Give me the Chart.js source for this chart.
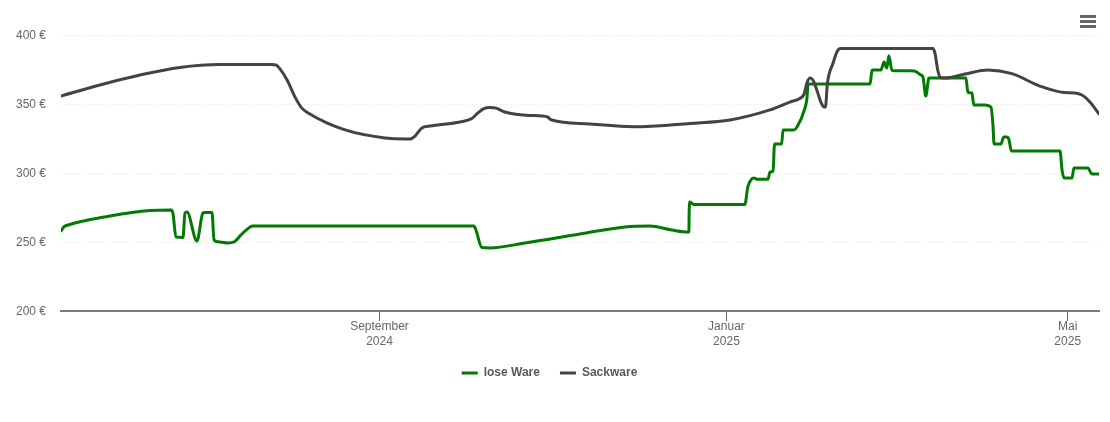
<!DOCTYPE html>
<html>
<head>
<meta charset="utf-8">
<title>Preisentwicklung</title>
<script src="https://cdn.jsdelivr.net/npm/chart.js@4"></script>
<style>
  html, body { margin: 0; padding: 0; background: #fff; }
  canvas { display: block; }
</style>
</head>
<body>
<canvas id="myChart" width="1110" height="422"></canvas>
<script>
// x values are days since 2024-05-12
const looseDays = [0, 1, 2.5, 17.2, 31.3, 38.7, 39.4, 40.4, 42.9, 43.6, 44.3, 47.8, 49.9, 50.6, 53.1, 53.8, 55.9, 58.7, 60.8, 63.6, 66.5, 67.5, 145.2, 145.9, 148, 150.8, 163.2, 182.5, 198.3, 207.1, 214.8, 220.5, 220.8, 220.9, 221.2, 222.2, 223.3, 240.5, 241.5, 242.9, 243.6, 245, 248.6, 249.3, 250.4, 250.9, 253.4, 253.9, 257.7, 258.8, 261.6, 262.3, 262.7, 284.5, 285.2, 288.3, 289.4, 290.4, 291.1, 292.2, 300, 302.4, 303.1, 304.1, 305.2, 318.2, 318.9, 320.3, 321, 325, 327, 327.7, 328.1, 330.5, 331.5, 332.6, 333.3, 334.2, 351.3, 352, 352.7, 355.5, 356.2, 361.1, 362.5, 365];
const looseValues = [258, 261, 262.3, 268.8, 272.8, 273.2, 270.3, 253.6, 253.3, 271, 271.7, 250.7, 271, 271.4, 271.4, 251.4, 250, 249.3, 250, 255.8, 260.9, 261.6, 261.6, 258.7, 246, 245.7, 249.3, 255.8, 260.9, 261.6, 258.7, 257.2, 257.2, 273.2, 279, 277.5, 277.2, 277.2, 289.9, 295.7, 296.4, 295.4, 295.4, 300.7, 301.4, 321, 321, 331.2, 331.2, 333.3, 347, 354, 364.5, 364.5, 374.6, 374.6, 380.4, 376, 385, 374.3, 374, 371, 369.6, 355.8, 368.8, 368.8, 358.5, 358, 349.3, 349.3, 347.8, 335, 321, 321, 326, 326, 324.5, 316, 316, 302.2, 296.4, 296.4, 303.6, 303.6, 299.3, 299.3];

const sackDays = [0, 13.7, 27.8, 41.8, 55.9, 74.2, 75.6, 77, 79.5, 82.3, 84.7, 86.9, 99.9, 113.9, 121, 122.7, 124.5, 126.9, 129.7, 140.3, 144.5, 146.6, 148.7, 150.8, 153, 156.1, 164.9, 171.2, 171.9, 172.6, 186, 203.6, 221.2, 235.2, 249.3, 256.3, 259.8, 261.3, 262.3, 263.4, 264.4, 265.8, 267.2, 268.3, 268.8, 269.5, 271.5, 273, 274.2, 306.6, 307.3, 308.3, 309.4, 310.8, 317.9, 325.9, 334.4, 344.2, 352.7, 356.5, 359, 361.8, 365];
const sackValues = [355.8, 363.8, 371, 376.5, 378.6, 378.6, 378.3, 375.4, 367.4, 355, 347, 343.5, 331.2, 325.4, 324.6, 324.6, 326.8, 332.6, 334, 337, 339.5, 343.5, 346.7, 347.5, 347, 344.2, 341.7, 340.6, 339.1, 338.4, 335.5, 333.5, 335.9, 338.4, 345.7, 351.4, 354, 357.2, 365.2, 368.8, 367.4, 360, 351.4, 347.8, 347.8, 365, 379.7, 388.4, 390.2, 390.2, 387, 374.6, 369, 368.8, 371.7, 374.6, 372, 363, 358.3, 358, 356.5, 351.4, 342.8];

const xTickDays = [112, 234, 354];
const xTickLabels = [['September', '2024'], ['Januar', '2025'], ['Mai', '2025']];
const yTicks = [200, 250, 300, 350, 400];

const menuIcon = {
    id: 'menuIcon',
    afterDraw(chart) {
        const c = chart.ctx;
        c.save();
        c.fillStyle = '#666';
        [15, 20, 25].forEach(y => c.fillRect(1080, y, 16, 3));
        c.restore();
    }
};

// canvas "middle" sits a pixel higher than the reference's labels
const nudgeYLabels = {
    id: 'nudgeYLabels',
    afterLayout(chart) {
        chart.scales.y.getLabelItems().forEach(item => { item.options.translation[1] += 1; });
    }
};

function points(days, values) {
    return days.map((d, i) => ({ x: d, y: values[i] }));
}

new Chart(document.getElementById('myChart'), {
    type: 'line',
    data: {
        datasets: [
            {
                label: 'lose Ware',
                data: points(looseDays, looseValues),
                order: 1,
                borderColor: '#007a00',
                backgroundColor: '#007a00',
                borderWidth: 3,
                borderCapStyle: 'round',
                borderJoinStyle: 'round',
                cubicInterpolationMode: 'monotone',
                pointRadius: 0
            },
            {
                label: 'Sackware',
                data: points(sackDays, sackValues),
                order: 0,
                borderColor: '#434343',
                backgroundColor: '#434343',
                borderWidth: 3,
                borderCapStyle: 'round',
                borderJoinStyle: 'round',
                cubicInterpolationMode: 'monotone',
                pointRadius: 0
            }
        ]
    },
    options: {
        responsive: false,
        animation: false,
        layout: { padding: { top: 35, left: 0, right: 11, bottom: 33 } },
        plugins: {
            tooltip: { enabled: false },
            legend: {
                position: 'bottom',
                labels: {
                    usePointStyle: true,
                    pointStyle: 'line',
                    pointStyleWidth: 16,
                    color: '#595959',
                    font: { family: 'Liberation Sans', size: 12, weight: 'bold' },
                    padding: 20,
                    sort: (a, b) => a.datasetIndex - b.datasetIndex
                }
            }
        },
        scales: {
            x: {
                type: 'linear',
                min: 0,
                max: 365,
                afterBuildTicks(axis) {
                    axis.ticks = xTickDays.map(v => ({ value: v }));
                },
                afterFit(axis) { axis.height = 36; },
                grid: { drawOnChartArea: false, tickLength: 10, tickColor: '#666', tickWidth: 1 },
                border: { color: '#7a7a7a', width: 2 },
                ticks: {
                    autoSkip: false,
                    maxRotation: 0,
                    padding: -2,
                    color: '#666',
                    font: { family: 'Liberation Sans', size: 12, lineHeight: 1.25 },
                    callback: (value, index) => xTickLabels[index]
                }
            },
            y: {
                min: 200,
                max: 400,
                afterBuildTicks(axis) {
                    axis.ticks = yTicks.map(v => ({ value: v }));
                },
                afterFit(axis) { axis.width = 61; },
                grid: { color: '#e6e6e6', drawTicks: false },
                border: { display: false, dash: [1, 2] },
                ticks: {
                    padding: 15,
                    color: '#666',
                    font: { family: 'Liberation Sans', size: 12 },
                    callback: value => value + ' €'
                }
            }
        }
    },
    plugins: [menuIcon, nudgeYLabels]
});
</script>
</body>
</html>
